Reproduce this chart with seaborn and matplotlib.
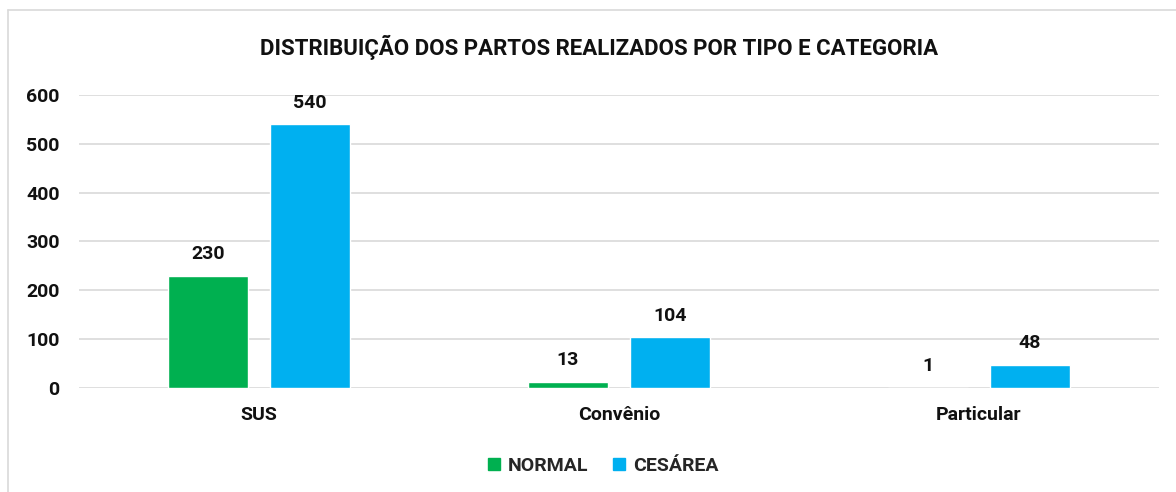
import matplotlib
matplotlib.use("Agg")
import matplotlib.pyplot as plt
from matplotlib.lines import Line2D
import seaborn as sns
import pandas as pd

categorias = ["SUS", "Convênio", "Particular"]
tipos = ["NORMAL", "CESÁREA"]
normal = [230, 13, 1]
cesarea = [540, 104, 48]
cores = ["#00B050", "#00B0F0"]
titulo = "DISTRIBUIÇÃO DOS PARTOS REALIZADOS POR TIPO E CATEGORIA"

df = pd.DataFrame({
    "Categoria": categorias * 2,
    "Tipo": [tipos[0]] * 3 + [tipos[1]] * 3,
    "Valor": normal + cesarea,
})

sns.set_style("white")
plt.rcParams["font.family"] = ["Roboto", "DejaVu Sans"]
plt.rcParams["font.weight"] = "bold"

fig = plt.figure(figsize=(11.76, 4.92), dpi=100)
ax = fig.add_axes([0.0672, 0.2114, 0.9184, 0.5955])

sns.barplot(
    data=df, x="Categoria", y="Valor", hue="Tipo",
    order=categorias, hue_order=tipos, palette=cores,
    width=0.567, gap=0.216, saturation=1, ax=ax, legend=False,
)

for cont in ax.containers:
    ax.bar_label(cont, padding=9, fontsize=14, fontweight="bold", color="#111111")

ax.set_ylim(0, 600)
ax.set_xlim(-0.5, 2.5)
ax.set_yticks(range(0, 601, 100))
ax.yaxis.grid(True, color="#D9D9D9", linewidth=1.2)
ax.set_axisbelow(True)
for s in ax.spines.values():
    s.set_visible(False)
ax.tick_params(axis="both", length=0, labelsize=14, colors="#111111")
ax.tick_params(axis="y", pad=14)
ax.tick_params(axis="x", pad=13)
for lbl in ax.get_xticklabels() + ax.get_yticklabels():
    lbl.set_fontweight("bold")
ax.set_xlabel("")
ax.set_ylabel("")

fig.text(0.509, 0.903, titulo, ha="center", va="center",
         fontsize=16, fontweight="bold", color="#111111")

handles = [Line2D([], [], marker="s", linestyle="", markersize=8,
                  markerfacecolor=c, markeredgecolor=c) for c in cores]
fig.legend(handles, tipos, loc="center", bbox_to_anchor=(0.512, 0.053), ncol=2,
           frameon=False, handlelength=0.8, handletextpad=0.3, columnspacing=1.2,
           prop={"weight": "bold", "size": 14})

# borda do gráfico (só topo e esquerda visíveis)
fig.add_artist(Line2D([8 / 1176, 1], [1 - 10 / 492, 1 - 10 / 492],
                      transform=fig.transFigure, color="#D9D9D9", linewidth=1.2))
fig.add_artist(Line2D([8 / 1176, 8 / 1176], [0, 1 - 10 / 492],
                      transform=fig.transFigure, color="#D9D9D9", linewidth=1.2))

fig.savefig("out.png", dpi=100)
